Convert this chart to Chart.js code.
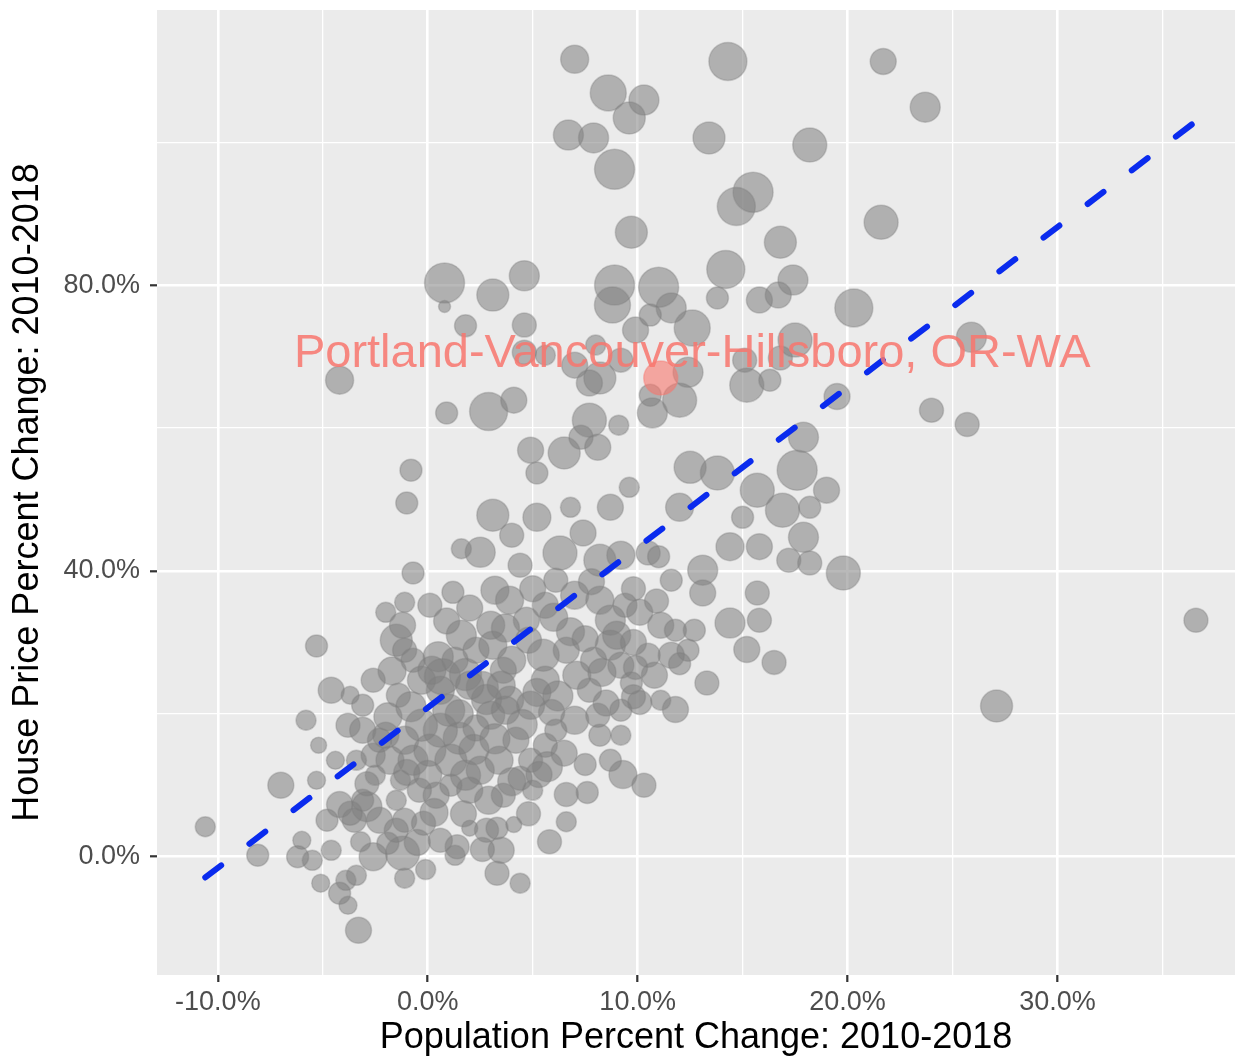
<!DOCTYPE html>
<html><head><meta charset="utf-8">
<script src="https://cdn.jsdelivr.net/npm/chart.js@4.4.1/dist/chart.umd.min.js"></script>
<style>html,body{margin:0;padding:0;background:#fff;}#wrap{width:1235px;height:1061px;}</style>
</head><body><div id="wrap"><canvas id="c" width="1235" height="1061"></canvas></div>
<script>
// Population % change 2010-2018 (x), house price % change 2010-2018 (y), bubble size index
const popChange = [
7.0,14.3,21.7,8.6,10.3,9.6,6.7,7.9,13.4,8.9, 18.2,23.7,15.5,14.7,21.6,9.7,16.8,14.2,17.4,4.6,
0.8,0.8,3.1,8.9,8.8,11.0,11.6,12.6,15.8,16.7, 13.8,20.3,1.8,4.6,4.6,9.9,10.6,17.5,25.9,15.1,
16.8,-4.2,7.0,8.2,9.2,12.4,15.2,16.3,8.0,5.6, 7.7,10.6,0.9,2.9,4.1,10.7,12.0,7.7,9.1,17.9,
19.5,24.0,25.7,4.9,6.5,7.3,8.1,5.2,-0.8,-1.0, 3.1,5.2,6.8,8.7,9.6,12.5,13.8,12.0,15.7,17.6,
19.0,18.2,16.9,15.0,14.4,15.8,17.9,17.2,18.2,19.8, 13.1,15.7,13.1,14.4,15.8,15.2,16.5,13.3,11.8,36.6,
27.1,6.3,7.4,10.5,11.6,9.2,8.2,1.6,2.5,4.0, 4.4,-0.7,1.2,0.1,-1.1,-2.0,2.0,3.2,3.9,4.7,
5.6,6.1,7.0,8.2,8.7,9.4,10.1,11.1,11.8,12.4, 11.6,12.7,10.3,9.3,9.2,8.2,7.5,6.6,6.6,5.8,
4.4,4.1,3.3,2.8,2.0,1.3,-0.1,-1.2,-1.1,-1.5, -2.6,-3.3,-3.9,-4.2,-3.4,-4.6,-5.1,-5.5,-6.0,-6.2,
-4.8,-4.2,-3.1,-3.5,-3.2,-1.9,-8.1,-10.6,-7.0,-5.3, -5.8,-5.3,-4.6,-3.8,-3.7,-3.1,-2.6,-1.4,-1.5,-1.2,
-1.1,-0.7,-0.3,0.2,0.6,1.0,1.3,1.6,2.3,3.0, 3.1,4.0,4.8,5.5,5.6,6.6,7.1,7.7,7.9,8.7,
9.2,9.7,10.5,10.8,11.1,10.1,9.2,8.1,7.0,5.9, 4.9,3.9,3.0,2.3,1.5,0.6,-0.3,-1.1,-2.0,-2.6,
-1.8,-0.7,0.1,1.1,1.8,2.5,3.4,4.2,4.9,4.4, 5.6,6.1,5.0,3.6,2.9,2.0,1.1,0.4,-0.4,-1.3,
-2.5,-3.4,-4.4,-5.2,0.6,-1.1,-2.3,-1.5,-3.8,8.7, -2.9,-3.7,1.4,3.5,-0.2,0.7,3.6,2.6,-1.9,-2.3,
-3.1,0.3,5.7,9.8,
0.5,1.8,2.8,3.5,4.5,5.2,6.2,6.8,7.5,8.3, 9.0,9.8,2.2,3.2,4.0,5.3,6.5,-0.8,-1.7,0.9,
3.7,5.0,6.0,7.8,9.8,1.7,2.6,-0.5,0.0,-1.0, -2.9,3.3,4.8,7.6,8.5,9.9,10.9,12.0,11.0,1.5,
3.7,2.0
];
const priceChange = [
111.6,111.3,111.3,106.9,105.9,103.4,101.0,100.6,100.6,96.2, 99.6,104.9,93.0,91.0,88.8,87.4,86.0,82.2,80.7,81.3,
80.3,77.0,78.6,80.0,77.2,79.7,76.8,74.0,77.9,78.6, 78.2,76.8,74.3,74.4,70.6,73.7,75.8,72.3,72.7,69.5,
69.8,66.7,68.8,67.0,69.5,67.8,66.0,66.7,71.6,70.2, 66.3,64.6,62.1,62.3,63.9,62.1,63.9,61.1,60.4,58.7,
64.4,62.5,60.5,56.9,56.5,58.7,57.3,53.7,54.1,49.5, 47.8,47.5,48.9,48.9,51.7,54.5,53.7,48.9,51.3,54.1,
51.3,48.9,48.5,47.5,43.4,43.4,44.7,41.5,41.1,39.7, 40.1,36.9,36.9,32.7,33.1,29.0,27.2,24.3,20.6,33.1,
21.1,42.5,45.3,42.5,38.7,42.2,41.5,43.1,42.6,45.0, 40.8,39.7,37.0,35.2,35.6,34.2,34.8,37.3,35.9,33.1,
35.2,38.7,36.6,35.9,33.1,35.2,34.2,32.4,31.7,28.9, 28.2,31.7,10.0,11.5,17.0,17.0,12.9,8.7,4.9,2.1,
-3.7,4.5,-2.3,3.7,4.0,0.2,-1.8,0.5,5.1,7.9, 0.0,-10.3,-3.3,-5.1,-2.6,0.9,-3.7,-0.5,2.3,0.0,
5.1,7.3,7.9,5.1,2.1,1.9,0.2,4.2,10.0,10.7, 19.1,29.5,23.3,18.4,22.6,21.2,24.7,22.6,30.3,32.4,
28.9,27.5,24.7,26.1,23.3,20.5,27.5,31.0,28.9,32.4, 29.6,27.5,30.3,28.2,24.7,28.9,25.4,23.3,27.5,29.6,
26.8,24.3,28.2,25.4,21.9,21.6,20.5,19.8,19.1,20.2, 21.2,21.9,19.8,18.0,16.6,17.7,18.4,16.3,17.0,14.2,
13.5,13.5,14.9,13.5,11.4,12.1,13.5,16.3,13.5,11.0, 15.6,17.7,9.3,8.6,7.9,9.3,10.0,8.6,9.3,10.7,
11.4,13.5,13.5,15.6,2.3,-3.0,5.1,3.7,-6.8,13.5, 7.0,6.1,1.4,0.9,4.7,25.2,26.1,23.7,19.6,16.3,
17.7,6.2,12.6,22.4,
28.0,25.5,22.0,24.0,18.5,23.0,22.5,31.5,30.5,25.8, 31.0,30.0,15.0,16.5,10.5,11.5,14.5,21.0,26.0,33.0,
32.0,37.5,33.5,38.5,37.5,6.0,1.0,2.0,11.5,11.8, 10.2,4.0,6.0,9.0,21.5,26.5,35.8,27.0,42.0,20.0,
20.5,24.0
];
const sizeIndex = [
14,19,13,18,15,16,15,15,16,20, 17,15,20,19,17,16,16,19,15,15,
20,6,16,20,18,20,15,18,13,13, 11,19,11,12,12,13,11,17,15,12,
12,14,13,16,12,15,17,11,10,10, 13,11,11,19,13,15,17,17,10,15,
13,12,12,13,16,12,13,11,11,11, 16,14,10,13,10,16,17,14,17,20,
13,11,17,11,14,13,15,12,12,17, 15,12,13,15,12,13,12,12,13,12,
16,17,13,12,11,14,16,10,15,12, 12,11,11,12,10,10,13,14,14,13,
13,12,14,14,15,12,13,13,11,11, 13,11,12,14,10,11,11,12,10,12,
10,8,12,12,8,10,10,17,12,10, 14,13,10,11,10,10,9,10,9,11,
11,13,11,12,10,11,11,10,13,9, 10,11,13,12,9,11,12,12,16,13,
12,12,14,14,14,16,13,15,13,14, 14,14,13,16,14,13,14,12,13,15,
13,11,12,13,10,12,11,12,14,13, 14,14,14,13,16,17,16,14,13,12,
14,15,16,16,15,14,14,13,12,12, 12,11,10,12,14,13,11,13,12,10,
10,10,9,8,12,10,13,12,9,11, 15,12,12,13,12,18,13,16,14,12,
13,14,15,12,
15,16,15,14,15,14,15,14,13,14, 14,13,15,15,14,13,13,15,14,13,
14,13,14,13,12,13,12,13,14,13, 12,11,12,11,13,12,12,11,11,14,
14,14
];
const highlightName = "Portland-Vancouver-Hillsboro, OR-WA";
const highlightPop = [11.1];
const highlightPrice = [67.0];
const highlightSize = [17];
const labelAt = [12.6, 68.5];
const fitX = [-10.6, 36.5];
const fitY = [-2.9, 102.7];
const xTicks = [-10,-5,0,5,10,15,20,25,30,35];
const yTicks = [0,20,40,60,80,100];
const xMajor = [-10,0,10,20,30];
const yMajor = [0,40,80];
const xTitle = "Population Percent Change: 2010-2018";
const yTitle = "House Price Percent Change: 2010-2018";

const FONT = '"Liberation Sans", Arial, Helvetica, sans-serif';
Chart.defaults.font.family = FONT;

const bubbles = popChange.map((x,i)=>({x:x, y:priceChange[i], r:sizeIndex[i]}));
const hi = highlightPop.map((x,i)=>({x:x, y:highlightPrice[i], r:highlightSize[i]}));
const fit = fitX.map((x,i)=>({x:x, y:fitY[i]}));

const panelBg = {
  id:'panelBg',
  beforeDraw(chart){
    const {ctx, chartArea:a} = chart;
    ctx.save(); ctx.fillStyle = '#EBEBEB';
    ctx.fillRect(a.left, a.top, a.right-a.left, a.bottom-a.top);
    ctx.restore();
  }
};
const labelPlugin = {
  id:'hlLabel',
  afterDatasetsDraw(chart){
    const {ctx, scales} = chart;
    ctx.save();
    ctx.font = '47px ' + FONT;
    ctx.fillStyle = 'rgba(248,118,109,0.85)';
    ctx.textAlign = 'center';
    ctx.textBaseline = 'alphabetic';
    ctx.fillText(highlightName, scales.x.getPixelForValue(labelAt[0]), scales.y.getPixelForValue(labelAt[1]));
    ctx.restore();
  }
};

function axisCommon(ticks, major, fmtTitle){
  return {
    type:'linear',
    afterBuildTicks(axis){ axis.ticks = ticks.map(v=>({value:v})); },
    ticks:{
      autoSkip:false, maxRotation:0, color:'#4D4D4D',
      font:{size:27, family:FONT},
      callback:(v)=> major.includes(v) ? v.toFixed(1)+'%' : ''
    },
    grid:{
      color:'#FFFFFF',
      lineWidth:(c)=> (c.tick && major.includes(c.tick.value)) ? 2.6 : 1.3,
      drawTicks:true, tickLength:7, tickWidth:2.2,
      tickColor:(c)=> (c.tick && major.includes(c.tick.value)) ? '#333333' : 'rgba(0,0,0,0)'
    },
    border:{display:false},
    title:{display:true, text:fmtTitle, color:'#000000', font:{size:36, family:FONT}}
  };
}

const xs = axisCommon(xTicks, xMajor, xTitle);
xs.min = -12.9; xs.max = 38.46; xs.position = 'bottom';
xs.ticks.padding = 4;
xs.title.padding = {top:0, bottom:1};
xs.afterFit = (s)=>{ s.height = 86; s.paddingLeft = 0; s.paddingRight = 0; };
const ys = axisCommon(yTicks, yMajor, yTitle);
ys.min = -16.55; ys.max = 118.5; ys.position = 'left';
ys.ticks.padding = 10;
ys.title.padding = {top:6, bottom:0};
ys.afterFit = (s)=>{ s.width = 157; s.paddingTop = 0; s.paddingBottom = 0; };

new Chart(document.getElementById('c'), {
  type:'bubble',
  data:{datasets:[
    {type:'line', data:fit, borderColor:'#0A2BEE', borderWidth:6, borderDash:[20,35.5],
     borderCapStyle:'round', pointRadius:0, fill:false, order:0},
    {data:hi, backgroundColor:'rgba(248,118,109,0.6)', borderColor:'rgba(248,118,109,0.4)', borderWidth:1.5, order:1},
    {data:bubbles, backgroundColor:'rgba(127,127,127,0.55)', borderColor:'rgba(127,127,127,0.35)', borderWidth:1.5, order:2}
  ]},
  options:{
    responsive:false, animation:false, devicePixelRatio:1,
    layout:{autoPadding:false, padding:{top:10, right:0, left:0, bottom:0}},
    plugins:{legend:{display:false}, tooltip:{enabled:false}},
    events:[],
    scales:{x:xs, y:ys}
  },
  plugins:[panelBg, labelPlugin]
});
</script>
</body></html>
